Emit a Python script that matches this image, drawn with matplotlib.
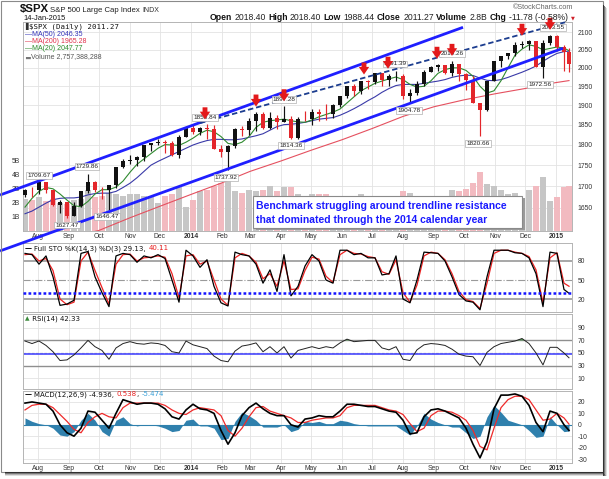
import numpy as np
import pandas as pd
import matplotlib
matplotlib.use('Agg')
import matplotlib.pyplot as plt
import matplotlib.dates as mdates
import matplotlib.transforms as mtransforms
from matplotlib.patches import Rectangle
from matplotlib.lines import Line2D
from matplotlib.ticker import FixedLocator, FixedFormatter, NullLocator

plt.rcParams['font.family'] = ['Liberation Sans', 'DejaVu Sans']
plt.rcParams['axes.unicode_minus'] = False

# ---------------- data (weekly) ----------------
week_end = pd.date_range('2013-07-19', periods=78, freq='W-FRI').append(pd.DatetimeIndex(['2015-01-14']))
first_open = 1680.19
close = [1692.09, 1691.65, 1709.67, 1691.42, 1655.83, 1663.50, 1632.97, 1655.17, 1687.99, 1709.91,
         1691.75, 1690.50, 1703.20, 1744.50, 1759.77, 1761.64, 1770.61, 1798.18, 1804.76, 1805.81,
         1805.09, 1775.32, 1818.32, 1841.40, 1831.37, 1842.37, 1838.70, 1790.29, 1782.59, 1797.02,
         1838.63, 1836.25, 1859.45, 1878.04, 1841.13, 1866.52, 1857.62, 1865.09, 1815.69, 1864.85,
         1863.40, 1881.14, 1878.48, 1877.86, 1900.53, 1923.57, 1949.44, 1936.16, 1962.87, 1960.96,
         1985.44, 1967.57, 1978.22, 1978.34, 1925.15, 1931.59, 1955.06, 1988.40, 2003.37, 2007.71,
         1985.54, 2010.40, 1982.85, 1967.90, 1906.13, 1886.76, 1964.58, 2018.05, 2031.92, 2039.82,
         2063.50, 2067.56, 2075.37, 2002.33, 2070.65, 2088.77, 2058.20, 2044.81, 2011.27]
high = [1693, 1698, 1709.67, 1709, 1690, 1669, 1664, 1664, 1689, 1729.86,
        1712, 1698, 1703, 1745, 1764, 1775, 1771, 1799, 1805, 1813,
        1812, 1809, 1823, 1844, 1849, 1843, 1850.84, 1849, 1799, 1798,
        1841, 1847, 1867, 1883.57, 1882, 1883, 1875, 1897.28, 1872, 1869,
        1884, 1891, 1889, 1902, 1902, 1924, 1949, 1955, 1963, 1968,
        1985, 1983, 1982, 1991.39, 1984, 1942, 1964, 1994, 2006, 2011,
        2008, 2019.26, 2007, 1986, 1977, 1904, 1965, 2018, 2034, 2041,
        2071, 2075.76, 2079, 2075, 2077, 2092.7, 2093.55, 2065, 2054]
low = [1674, 1676, 1681, 1684, 1654, 1639, 1627.47, 1633, 1652, 1684,
       1687, 1670, 1646.47, 1697, 1742, 1753, 1747, 1760, 1784, 1800,
       1779, 1772, 1767, 1818, 1827, 1823, 1815, 1790, 1770, 1737.92,
       1791, 1821, 1825, 1834, 1839, 1839, 1839, 1857, 1814.36, 1815,
       1859, 1850, 1859, 1862, 1868, 1896, 1918, 1925, 1930, 1944,
       1956, 1952, 1952, 1965, 1916, 1904.78, 1928, 1951, 1988, 1992,
       1983, 1978, 1965, 1941, 1906, 1820.66, 1886, 1964, 2001, 2025,
       2034, 2056, 2049, 2002, 1972.56, 2064, 2046, 1992, 1988.44]
volume_b = [2.3, 2.2, 2.4, 2.1, 2.3, 2.0, 1.9, 2.2, 2.3, 2.9,
            2.4, 2.5, 2.7, 2.6, 2.5, 2.6, 2.6, 2.5, 2.5, 2.0,
            2.5, 2.6, 3.1, 1.7, 2.2, 2.8, 2.9, 3.2, 3.4, 3.6,
            2.8, 2.7, 2.9, 2.8, 2.9, 3.2, 2.8, 3.1, 3.1, 2.6,
            2.5, 2.6, 2.6, 2.6, 2.1, 2.2, 2.4, 2.3, 2.6, 2.2,
            2.0, 2.2, 2.4, 2.2, 2.8, 2.7, 2.2, 2.1, 1.8, 2.2,
            2.4, 2.9, 2.8, 3.0, 3.4, 4.2, 3.3, 3.2, 2.9, 2.6,
            2.7, 2.3, 2.9, 3.2, 3.8, 2.1, 2.4, 3.1, 3.2]
ma20 = [1652, 1672, 1688, 1697, 1694, 1682, 1668, 1655, 1653, 1665,
        1682, 1692, 1692, 1698, 1712, 1733, 1752, 1765, 1778, 1791,
        1800, 1799, 1798, 1806, 1816, 1828, 1836, 1832, 1820, 1803,
        1800, 1806, 1820, 1843, 1856, 1860, 1862, 1864, 1860, 1857,
        1856, 1862, 1870, 1876, 1882, 1890, 1906, 1922, 1938, 1948,
        1958, 1964, 1970, 1975, 1968, 1955, 1948, 1950, 1965, 1985,
        1995, 2000, 2000, 1993, 1977, 1950, 1932, 1938, 1965, 2000,
        2035, 2052, 2064, 2060, 2050, 2054, 2058, 2055, 2047.77]
ma50 = [1637, 1643, 1652, 1661, 1669, 1672, 1673, 1673, 1675, 1680,
        1683, 1684, 1684, 1688, 1697, 1707, 1720, 1735, 1750, 1759,
        1767, 1775, 1783, 1791, 1799, 1805, 1810, 1813, 1813, 1812,
        1812, 1814, 1818, 1822, 1827, 1836, 1845, 1850, 1851, 1853,
        1856, 1860, 1864, 1866, 1868, 1874, 1882, 1891, 1901, 1912,
        1922, 1934, 1944, 1952, 1955, 1955, 1955, 1958, 1961, 1964,
        1968, 1974, 1978, 1980, 1979, 1972, 1966, 1965, 1968, 1974,
        1981, 1988, 1996, 2005, 2018, 2030, 2040, 2045, 2046.35]
ma200_dates = ['2013-08-01', '2013-09-01', '2013-10-01', '2013-11-01', '2013-12-01', '2014-01-01',
               '2014-02-01', '2014-03-01', '2014-04-01', '2014-05-01', '2014-06-01', '2014-07-01',
               '2014-08-01', '2014-09-01', '2014-10-01', '2014-11-01', '2014-12-01', '2015-01-01',
               '2015-01-14']
ma200 = [1568, 1584, 1600, 1628, 1654, 1681, 1708, 1735, 1760, 1786, 1812, 1840,
         1871, 1896, 1914, 1930, 1944, 1960, 1965.28]
sto_k = [92, 90, 75, 88, 55, 10, 12, 18, 92, 95,
         55, 30, 8, 88, 92, 90, 78, 88, 85, 90,
         84, 50, 15, 97, 88, 70, 82, 40, 14, 9,
         94, 90, 88, 75, 45, 66, 32, 90, 25, 40,
         72, 90, 80, 50, 45, 97, 97, 90, 92, 85,
         85, 58, 60, 88, 20, 14, 50, 94, 93, 92,
         80, 55, 27, 17, 15, 3, 55, 97, 97, 97,
         93, 92, 85, 60, 8, 94, 92, 35, 29.13]
sto_d = [90, 91, 80, 84, 65, 20, 11, 15, 80, 94,
         65, 38, 12, 75, 90, 91, 80, 85, 86, 88,
         86, 60, 22, 88, 90, 75, 80, 50, 20, 10,
         85, 92, 88, 78, 52, 60, 40, 80, 35, 36,
         65, 86, 83, 56, 46, 90, 97, 92, 91, 87,
         85, 63, 59, 82, 30, 15, 42, 88, 94, 92,
         82, 60, 32, 19, 16, 5, 45, 92, 97, 97,
         94, 92, 87, 66, 14, 85, 93, 45, 40.11]
rsi = [69, 65, 69, 62, 52, 38, 39, 47, 58, 70,
       60, 54, 40, 58, 65, 68, 65, 64, 66, 65,
       62, 52, 50, 69, 63, 60, 57, 45, 38, 36,
       53, 61, 63, 66, 52, 60, 50, 60, 42, 54,
       57, 60, 57, 60, 58, 66, 72, 68, 69, 70,
       70, 58, 55, 60, 40, 38, 55, 63, 65, 64,
       62, 56, 48, 45, 44, 30, 51, 60, 65, 67,
       69, 73, 65, 50, 31, 59, 59, 50, 42.33]
macd = [19, 20, 19, 18, 12, 0, -7, -10, -3, 12,
        11, 4, -3, 10, 22, 20, 18, 19, 19, 18,
        14, 7, 5, 13, 18, 14, 13, 10, -5, -17,
        -7, 8, 15, 19, 14, 10, 8, 8, 0, -2,
        5, 6, 8, 7, 7, 12, 18, 18, 17, 16,
        16, 14, 12, 11, 4, -8, -7, 7, 13, 14,
        12, 9, 6, -3, -17, -29, -15, 14, 26, 26,
        27, 25, 17, 2, -6, 12, 10, 0, -4.936]
macd_signal = [13, 17, 18, 18, 15, 9, 3, -4, -7, 2,
               7, 10, 7, 6, 15, 19, 19, 19, 19, 19,
               17, 13, 10, 9, 13, 15, 14, 13, 8, -5,
               -10, -3, 7, 15, 16, 12, 10, 8, 6, 2,
               2, 4, 5, 6, 6, 8, 15, 17, 17, 17,
               17, 15, 13, 12, 9, 1, -6, -3, 8, 12,
               12, 11, 8, 4, -5, -19, -22, -3, 15, 22,
               25, 25, 22, 13, 4, 5, 10, 6, 0.538]

hl_dates = ['2013-08-02', '2013-08-30', '2013-09-19', '2013-10-09', '2014-01-15', '2014-02-05',
            '2014-04-04', '2014-04-11', '2014-07-24', '2014-08-07', '2014-09-19', '2014-10-15',
            '2014-12-16', '2014-12-29']
hl_values = [1709.67, 1627.47, 1729.86, 1646.47, 1850.84, 1737.92, 1897.28, 1814.36, 1991.39,
             1904.78, 2019.26, 1820.66, 1972.56, 2093.55]
hl_side = ['hi', 'lo', 'hi', 'lo', 'hi', 'lo', 'hi', 'lo', 'hi', 'lo', 'hi', 'lo', 'lo', 'hi']

arrow_dates = ['2014-01-15', '2014-03-07', '2014-04-04', '2014-06-23', '2014-07-17', '2014-09-04',
               '2014-09-19', '2014-11-28', '2014-12-26']
arrow_prices = [1850.84, 1883.57, 1897.28, 1968.17, 1983.94, 2011.17, 2019.26, 2075.76, 2092.70]

# analyst trendlines: (start date, start price, end date, end price)
channel_upper = ('2013-06-24', 1679.6, '2014-09-30', 2114.4)
channel_lower = ('2013-06-24', 1555.5, '2015-01-08', 2054.5)
resistance = ('2014-01-10', 1853.9, '2015-01-10', 2129.0)

price_ticks = [1650, 1700, 1750, 1800, 1850, 1900, 1950, 2000, 2050, 2100]
vol_ticks = [1, 2, 3, 4, 5]
month_ticks = pd.date_range('2013-08-01', '2015-01-01', freq='MS')

# ---------------- figure ----------------
W, H = 609, 479
fig = plt.figure(figsize=(W / 100, H / 100), dpi=100)
fig.patch.set_facecolor('white')


def fx(px):
    return px / W


def fy(py):
    return 1 - py / H


LEFT, RIGHT = 23, 572


def panel(top, bottom):
    return fig.add_axes([fx(LEFT), fy(bottom), (RIGHT - LEFT) / W, (bottom - top) / H])


def dn(d):
    return mdates.date2num(pd.Timestamp(d))


dates = mdates.date2num(pd.to_datetime(week_end))
xmin, xmax = dn('2013-07-17'), dn('2015-01-17')
mt = mdates.date2num(month_ticks)
mlabels = [d.strftime('%b') if d.month != 1 else str(d.year) for d in month_ticks]

GRID = '#e3e3e3'
AXC = '#b4b4b4'
TICKC = '#333333'
TFS = 4.9
UP, DN = '#111111', '#e3262b'


def style_panel(a, show_x=False):
    a.set_xlim(xmin, xmax)
    for s in a.spines.values():
        s.set_color(AXC)
        s.set_linewidth(0.7)
    a.tick_params(length=0, labelsize=TFS, colors=TICKC)
    a.set_xticks(mt)
    if show_x:
        a.set_xticklabels(mlabels)
        for lab, d in zip(a.get_xticklabels(), month_ticks):
            if d.month == 1:
                lab.set_fontweight('bold')
    else:
        a.set_xticklabels([])
    a.grid(True, axis='x', color=GRID, lw=0.6)
    a.set_axisbelow(True)


# ---- main panel: volume (left) + price (right, log) ----
axv = panel(22, 231)
axv.set_zorder(3)
style_panel(axv, show_x=True)
axv.tick_params(axis='x', pad=1.5)
axv.set_ylim(0, 14.8e9)
axv.set_yticks([v * 1e9 for v in vol_ticks])
axv.set_yticklabels([f'{v}B' for v in vol_ticks])
axv.tick_params(axis='y', pad=2)

opens = [first_open] + close[:-1]
up = [c >= o for o, c in zip(opens, close)]
axv.bar(dates, np.array(volume_b) * 1e9, width=5.6,
        color=['#c6c6c6' if u else '#f2bac0' for u in up], linewidth=0, zorder=2)

ax = axv.twinx()
ax.set_zorder(4)
ax.patch.set_visible(False)
ax.set_yscale('log')
ax.set_ylim(1598.7, 2129.9)
ax.yaxis.set_major_locator(FixedLocator(price_ticks))
ax.yaxis.set_major_formatter(FixedFormatter([str(p) for p in price_ticks]))
ax.yaxis.set_minor_locator(NullLocator())
ax.tick_params(axis='y', length=0, labelsize=TFS, colors=TICKC, pad=4)
for s in ax.spines.values():
    s.set_visible(False)

blend = mtransforms.blended_transform_factory(axv.transAxes, ax.transData)
for p in price_ticks:
    axv.add_line(Line2D([0, 1], [p, p], transform=blend, color=GRID, lw=0.6, zorder=0.6))

ax.plot(mdates.date2num(pd.to_datetime(ma200_dates)), ma200, color='#e5505f', lw=0.8, zorder=2)
ax.plot(dates, ma50, color='#3a3aa8', lw=0.8, zorder=2)
ax.plot(dates, ma20, color='#2f8a2f', lw=0.8, zorder=2)

for d, o, h, l, c, u in zip(dates, opens, high, low, close, up):
    col = UP if u else DN
    ax.vlines(d, l, h, color=col, lw=0.85, zorder=3)
    ax.bar(d, c - o, bottom=o, width=3.4, color=col, linewidth=0, zorder=3)

for (d0, p0, d1, p1) in [channel_upper, channel_lower]:
    ax.plot([dn(d0), dn(d1)], [p0, p1], color='#1f1fff', lw=2.0,
            clip_on=False, zorder=6, solid_capstyle='butt')
d0, p0, d1, p1 = resistance
ax.plot([dn(d0), dn(d1)], [p0, p1], color='#1c3d8f', lw=1.3, ls=(0, (3, 1.6)),
        clip_on=False, zorder=6)

for d, v, s in zip(hl_dates, hl_values, hl_side):
    ax.annotate(f'{v:.2f}', xy=(dn(d), v), xytext=(0, 7 if s == 'hi' else -7),
                textcoords='offset pixels', ha='center', va='center', fontsize=4.6,
                color='#222222', annotation_clip=False, zorder=7,
                bbox=dict(boxstyle='square,pad=0.15', fc='white', ec='#b0b0b0', lw=0.5))

for d, p in zip(arrow_dates, arrow_prices):
    ax.annotate('', xy=(dn(d), p), xytext=(0, 17), textcoords='offset pixels',
                annotation_clip=False, zorder=8,
                arrowprops=dict(arrowstyle='simple,head_length=0.55,head_width=0.75,tail_width=0.35',
                                fc='#e3191b', ec='none', shrinkA=0, shrinkB=3.6,
                                mutation_scale=10))

# ---- Full stochastics ----
axs = panel(243, 312)
style_panel(axs)
axs.set_ylim(-0.5, 108.4)
axs.yaxis.tick_right()
axs.set_yticks([20, 50, 80])
axs.set_yticklabels(['20', '50', '80'])
axs.tick_params(axis='y', pad=4)
axs.axhline(80, color='#8f8f8f', lw=1.1, zorder=1)
axs.axhline(20, color='#8f8f8f', lw=1.1, zorder=1)
axs.axhline(50, color='#9a9a9a', lw=0.8, ls='-.', zorder=1)
axs.axhline(30, color='#1414ff', lw=1.8, ls=(0, (1.1, 0.9)), zorder=4)
axs.plot(dates, sto_d, color='#ee2222', lw=0.9, zorder=2)
axs.plot(dates, sto_k, color='black', lw=0.9, zorder=3)

# ---- RSI ----
axr = panel(314, 389)
style_panel(axr)
axr.set_ylim(-7.3, 112)
axr.yaxis.tick_right()
axr.set_yticks([10, 30, 50, 70, 90])
axr.set_yticklabels(['10', '30', '50', '70', '90'])
axr.tick_params(axis='y', pad=4)
for lv in (10, 90):
    axr.axhline(lv, color=GRID, lw=0.6, zorder=0.5)
axr.axhline(70, color='#8f8f8f', lw=1.0, zorder=1)
axr.axhline(30, color='#8f8f8f', lw=1.0, zorder=1)
axr.axhline(50, color='#c8c8c8', lw=1.0, ls=(0, (2, 1)), zorder=1)
axr.axhline(48, color='#3b3bff', lw=1.1, zorder=2)
rsi_arr = np.array(rsi, dtype=float)
axr.fill_between(dates, 70, rsi_arr, where=rsi_arr > 70, interpolate=True,
                 color='#5aa55a', lw=0, zorder=2)
axr.plot(dates, rsi, color='#222222', lw=0.7, zorder=3)

# ---- MACD ----
axm = panel(391, 463)
style_panel(axm, show_x=True)
axm.tick_params(axis='x', pad=1.5)
axm.set_ylim(-33.5, 29.6)
axm.yaxis.tick_right()
mticks = [-30, -20, -10, 0, 10, 20]
axm.set_yticks(mticks)
axm.set_yticklabels([str(v) for v in mticks])
axm.tick_params(axis='y', pad=4)
axm.grid(True, axis='y', color=GRID, lw=0.6)
hist = np.array(macd) - np.array(macd_signal)
axm.fill_between(dates, 0, hist, color='#2f80ad', lw=0, zorder=1)
axm.axhline(0, color='#2f80ad', lw=0.8, zorder=1)
axm.plot(dates, macd_signal, color='#ee2a2a', lw=0.9, zorder=2)
axm.plot(dates, macd, color='black', lw=1.2, zorder=3)

# ---------------- texts ----------------
renderer = fig.canvas.get_renderer()


def seq_text(x_px, y_px, parts, right=False, gap=0.0, **kw):
    items = []
    for s, props in parts:
        t = fig.text(0, fy(y_px), s, va='baseline', zorder=30, **{**kw, **props})
        items.append(t)
    widths = [t.get_window_extent(renderer).width for t in items]
    total = sum(widths) + gap * (len(items) - 1)
    x = x_px - total if right else x_px
    for t, w in zip(items, widths):
        t.set_x(fx(x))
        x += w + gap
    return x


# header
seq_text(20, 12, [('$SPX', dict(fontsize=8.2, fontweight='bold', color='#111111'))])
seq_text(50, 11.5, [('S&P 500 Large Cap Index', dict(fontsize=5.6, color='#222222'))])
seq_text(142, 11.5, [('INDX', dict(fontsize=5.0, color='#333333'))])
fig.text(fx(573), fy(9), '\u00a9StockCharts.com', ha='right', va='baseline',
         fontsize=5.2, color='#666666', zorder=30)
fig.text(fx(23), fy(20.5), '14-Jan-2015', ha='left', va='baseline', fontsize=5.4,
         color='#111111', zorder=30)
B = dict(fontweight='bold', color='#111111')
Rg = dict(color='#222222')
seq_text(568, 20, [('Open', B), ('2018.40', Rg), ('High', B), ('2018.40', Rg),
                   ('Low', B), ('1988.44', Rg), ('Close', B), ('2011.27', Rg),
                   ('Volume', B), ('2.8B', Rg), ('Chg', B), ('-11.78 (-0.58%)', Rg)],
         right=True, gap=2.4, fontsize=6.2)
fig.text(fx(572.5), fy(19.5), '\u25bc', ha='center', va='baseline', fontsize=3.6,
         color='#d0202a', zorder=30, family='DejaVu Sans')

# main legend
fig.text(fx(25), fy(28), '\u258c', fontsize=5, color='#333333', va='baseline', zorder=30,
         family='DejaVu Sans')
fig.text(fx(29), fy(28), '$SPX (Daily) 2011.27', fontsize=5.3, color='#111111',
         va='baseline', zorder=30, family='DejaVu Sans Mono')
for yy, txt, col in [(35.5, '\u2014MA(50) 2046.35', '#3434b8'),
                     (43, '\u2014MA(200) 1965.28', '#e0304a'),
                     (50.5, '\u2014MA(20) 2047.77', '#2a8a2a'),
                     (58, 'Volume 2,757,388,288', '#555555')]:
    xs = 25 if txt.startswith('\u2014') else 31
    fig.text(fx(xs), fy(yy), txt, fontsize=5.0, color=col, va='baseline', zorder=30)
fig.text(fx(25), fy(58), '\u2583', fontsize=4.5, color='#777777', va='baseline', zorder=30,
         family='DejaVu Sans')

# indicator legends
seq_text(25, 250, [('\u2014 ', dict(color='black', fontweight='bold')),
                   ('Full STO %K(14,3) %D(3) 29.13, ', dict(color='#111111')),
                   ('40.11', dict(color='#e82020'))], fontsize=5.0, family='DejaVu Sans')
seq_text(25, 320.5, [('\u25b2', dict(color='#3a8a3a', fontsize=4.2)),
                     (' RSI(14) 42.33', dict(color='#111111'))], fontsize=5.0,
         family='DejaVu Sans')
seq_text(25, 396, [('\u2014 ', dict(color='black', fontweight='bold')),
                   ('MACD(12,26,9) -4.936, ', dict(color='#111111')),
                   ('0.538', dict(color='#e82020')), (', ', dict(color='#111111')),
                   ('-5.474', dict(color='#3aa0d8'))], fontsize=5.0, family='DejaVu Sans')

# commentary box
fig.add_artist(Rectangle((fx(255.5), fy(230.5)), 269 / W, 32 / H, transform=fig.transFigure,
                         fc='#9a9a9a', ec='none', zorder=19))
fig.add_artist(Rectangle((fx(253), fy(228)), 269 / W, 32 / H, transform=fig.transFigure,
                         fc='white', ec='#8a8a8a', lw=0.8, zorder=20))
fig.text(fx(256), fy(209), 'Benchmark struggling around trendline resistance', fontsize=7.5,
         fontweight='bold', color='#1a1aff', va='baseline', zorder=21)
fig.text(fx(256), fy(223), 'that dominated through the 2014 calendar year', fontsize=7.5,
         fontweight='bold', color='#1a1aff', va='baseline', zorder=21)

# outer frame with drop shadow
fig.add_artist(Rectangle((fx(1), fy(472)), 602 / W, 471 / H, transform=fig.transFigure,
                         fill=False, ec='#8a8a8a', lw=0.8, zorder=40))
for k, a in enumerate([0.85, 0.6, 0.35, 0.15]):
    fig.add_artist(Rectangle((fx(603 + k), fy(476)), 1 / W, (471 - k) / H,
                             transform=fig.transFigure, fc='#222222', alpha=a, ec='none', zorder=40))
    fig.add_artist(Rectangle((fx(5), fy(473 + k)), (598 + k) / W, 1 / H,
                             transform=fig.transFigure, fc='#222222', alpha=a, ec='none', zorder=40))

fig.savefig('out.png', dpi=100, facecolor='white')
